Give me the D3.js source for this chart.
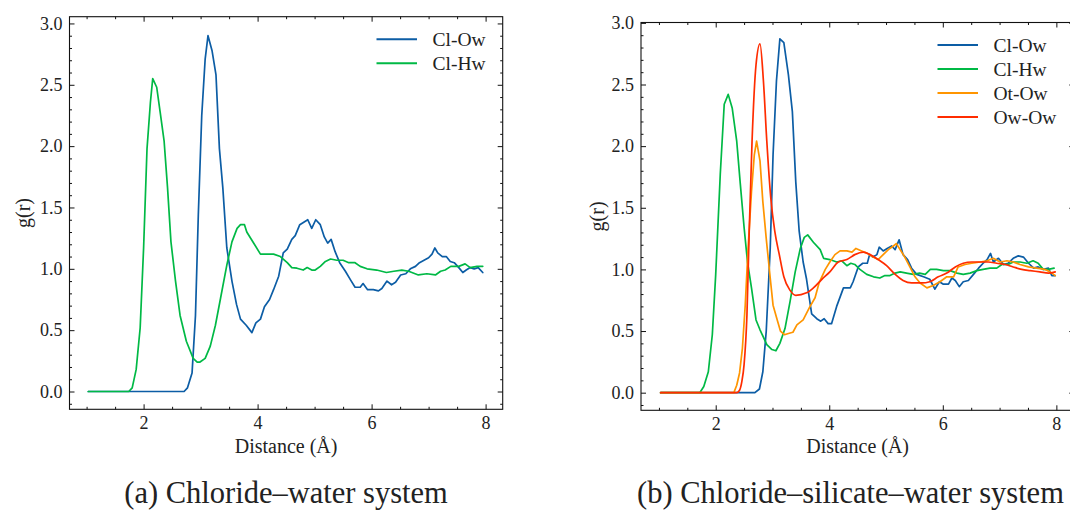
<!DOCTYPE html>
<html><head><meta charset="utf-8">
<script src="https://cdn.jsdelivr.net/npm/d3@7"></script>
<style>body{margin:0;background:#fff}svg{display:block}</style>
</head><body>
<svg id="c" width="1070" height="510"></svg>
<script>
// ---- Panel (a): chloride–water ----
const aClOwX=[1.03,2.71,2.77,2.85,2.91,2.96,3.02,3.08,3.13,3.20,3.27,3.33,3.39,3.46,3.55,3.63,3.70,3.80,3.90,3.97,4.05,4.12,4.21,4.28,4.37,4.45,4.52,4.60,4.66,4.74,4.81,4.88,4.95,5.02,5.10,5.17,5.23,5.29,5.36,5.44,5.54,5.63,5.71,5.80,5.85,5.93,6.03,6.12,6.18,6.27,6.35,6.42,6.51,6.60,6.68,6.77,6.84,6.92,7.00,7.06,7.11,7.16,7.24,7.31,7.38,7.45,7.53,7.60,7.66,7.73,7.80,7.87,7.95];
const aClOwG=[0,0,0.03,0.15,0.62,1.44,2.25,2.71,2.90,2.78,2.58,1.98,1.66,1.17,0.90,0.71,0.59,0.54,0.48,0.56,0.59,0.69,0.75,0.83,0.94,1.13,1.16,1.24,1.27,1.36,1.38,1.40,1.33,1.40,1.36,1.26,1.21,1.24,1.14,1.05,0.98,0.91,0.85,0.85,0.88,0.83,0.83,0.82,0.84,0.90,0.87,0.89,0.95,0.96,1.00,1.02,1.05,1.07,1.09,1.12,1.17,1.13,1.10,1.10,1.06,1.05,1.01,0.97,0.99,1.01,1.00,1.01,0.97];
const aClHwX=[1.03,1.74,1.80,1.87,1.94,2.00,2.06,2.12,2.16,2.23,2.29,2.36,2.42,2.48,2.56,2.64,2.75,2.87,2.94,2.99,3.08,3.17,3.26,3.35,3.46,3.55,3.64,3.70,3.77,3.81,3.93,4.05,4.19,4.28,4.40,4.52,4.60,4.69,4.80,4.87,4.95,5.01,5.10,5.19,5.28,5.39,5.50,5.60,5.71,5.80,5.92,6.09,6.26,6.39,6.53,6.65,6.82,6.97,7.12,7.21,7.29,7.39,7.53,7.64,7.73,7.85,7.95];
const aClHwG=[0,0,0.03,0.18,0.52,1.17,1.98,2.36,2.55,2.48,2.28,2.04,1.66,1.22,0.90,0.62,0.41,0.27,0.24,0.24,0.27,0.37,0.54,0.76,1.03,1.22,1.33,1.36,1.36,1.30,1.21,1.12,1.12,1.12,1.10,1.05,1.01,1.005,0.99,1.01,0.99,0.99,1.02,1.06,1.08,1.07,1.07,1.05,1.05,1.02,1.00,0.99,0.97,0.98,0.99,0.98,0.95,0.96,0.95,0.98,0.99,1.02,1.02,1.04,1.01,1.02,1.02];

// ---- Panel (b): chloride–silicate–water ----
const bClOwX=[1.03,2.69,2.77,2.83,2.89,2.96,3.01,3.07,3.13,3.20,3.28,3.35,3.41,3.47,3.54,3.60,3.69,3.78,3.85,3.91,3.98,4.04,4.13,4.25,4.37,4.42,4.51,4.59,4.67,4.71,4.77,4.84,4.88,4.95,5.02,5.10,5.16,5.23,5.30,5.38,5.45,5.54,5.66,5.77,5.86,5.94,6.01,6.10,6.16,6.22,6.29,6.36,6.45,6.54,6.63,6.71,6.78,6.84,6.89,6.98,7.07,7.15,7.24,7.33,7.42,7.51,7.60,7.68,7.77,7.86,7.92,7.98];
const bClOwG=[0,0,0.03,0.17,0.50,1.17,1.93,2.53,2.87,2.84,2.58,2.28,1.71,1.31,1.06,0.92,0.64,0.60,0.58,0.60,0.56,0.56,0.70,0.85,0.85,0.90,1.02,1.05,1.05,1.12,1.10,1.12,1.18,1.15,1.17,1.19,1.16,1.24,1.12,1.08,1.01,0.96,0.94,0.92,0.84,0.90,0.88,0.88,0.93,0.91,0.86,0.90,0.91,0.96,1.01,1.05,1.08,1.13,1.06,1.09,1.04,1.05,1.09,1.11,1.10,1.05,1.01,1.02,1.00,1.01,0.95,0.95];
const bClHwX=[1.03,1.72,1.79,1.87,1.94,2.00,2.08,2.15,2.22,2.29,2.37,2.43,2.50,2.56,2.63,2.71,2.78,2.90,2.99,3.06,3.13,3.22,3.31,3.40,3.49,3.56,3.62,3.72,3.84,3.90,4.01,4.13,4.22,4.31,4.38,4.45,4.54,4.66,4.78,4.89,4.98,5.07,5.16,5.25,5.36,5.48,5.59,5.69,5.78,5.89,6.01,6.13,6.25,6.36,6.48,6.60,6.71,6.83,6.95,7.04,7.15,7.24,7.36,7.48,7.59,7.68,7.77,7.86,7.96];
const bClHwG=[0,0,0.05,0.17,0.47,0.96,1.77,2.34,2.42,2.31,2.04,1.71,1.34,1.06,0.85,0.59,0.51,0.39,0.35,0.34,0.40,0.52,0.74,0.98,1.17,1.26,1.28,1.22,1.16,1.09,1.08,1.06,1.07,1.03,1.05,1.04,1.00,0.96,0.94,0.93,0.95,0.95,0.97,0.98,0.97,0.96,0.97,0.96,1.00,1.00,0.99,0.99,0.97,0.96,0.97,0.99,1.00,1.01,1.01,1.04,1.04,1.06,1.06,1.05,1.07,1.05,1.00,1.00,1.01];
const bOtOwX=[1.03,2.32,2.37,2.42,2.47,2.52,2.57,2.63,2.68,2.72,2.78,2.83,2.89,2.96,3.01,3.09,3.14,3.21,3.28,3.36,3.43,3.54,3.65,3.75,3.82,3.93,4.01,4.10,4.19,4.31,4.40,4.47,4.57,4.67,4.77,4.86,4.95,5.04,5.13,5.18,5.25,5.33,5.42,5.51,5.60,5.72,5.83,5.95,6.07,6.19,6.27,6.39,6.51,6.66,6.78,6.89,7.01,7.13,7.24,7.36,7.51,7.65,7.80,7.89,7.98];
const bOtOwG=[0,0,0.06,0.16,0.36,0.71,1.17,1.63,1.93,2.04,1.88,1.55,1.25,0.93,0.71,0.58,0.50,0.47,0.48,0.49,0.55,0.59,0.69,0.77,0.89,1.00,1.06,1.12,1.15,1.15,1.14,1.17,1.15,1.13,1.10,1.08,1.12,1.16,1.19,1.21,1.16,1.10,1.02,0.94,0.89,0.85,0.87,0.90,0.94,0.94,1.02,1.04,1.05,1.06,1.07,1.09,1.06,1.07,1.06,1.04,1.02,1.01,1.00,0.98,0.95];
const bOwOwX=[1.03,2.37,2.42,2.46,2.50,2.55,2.59,2.64,2.71,2.78,2.84,2.90,2.97,3.04,3.12,3.20,3.31,3.41,3.60,3.72,3.87,4.01,4.16,4.31,4.45,4.60,4.72,4.86,5.01,5.16,5.30,5.45,5.63,5.77,5.92,6.07,6.22,6.36,6.51,6.66,6.80,6.95,7.10,7.24,7.39,7.54,7.71,7.86,7.98];
const bOwOwG=[0,0,0.02,0.09,0.23,0.63,1.31,2.04,2.66,2.83,2.53,2.04,1.58,1.31,1.12,0.94,0.83,0.79,0.81,0.85,0.92,0.98,1.06,1.08,1.12,1.14,1.12,1.08,1.03,0.96,0.91,0.89,0.89,0.90,0.94,0.97,1.02,1.05,1.06,1.06,1.06,1.05,1.04,1.02,1.00,0.99,0.98,0.97,0.98];

const xMajorTicks=[2,4,6,8];
const yMajorTicks=[0,0.5,1.0,1.5,2.0,2.5,3.0];
const xLabel="Distance (Å)";
const yLabel="g(r)";
const captions=["(a) Chloride–water system","(b) Chloride–silicate–water system"];
const colors={"Cl-Ow":"#0C5DA5","Cl-Hw":"#00B945","Ot-Ow":"#FF9500","Ow-Ow":"#FF2C00"};

const svg=d3.select("#c");
const FONT="'Liberation Serif', 'Times New Roman', serif";

function drawPanel(p){
  const x=d3.scaleLinear().domain(p.xd).range([p.l,p.r]);
  const y=d3.scaleLinear().domain(p.yd).range([p.b,p.t]);
  const g=svg.append("g");
  const xMinor=d3.range(1,8.01,0.5).filter(v=>!xMajorTicks.includes(v));
  const yMinor=d3.range(-1,31,1).map(v=>v/10).filter(v=>Math.abs(v*2-Math.round(v*2))>1e-6);

  // data lines
  p.series.forEach(s=>{
    const pts=s.x.map((v,i)=>[v,s.g[i]]);
    g.append("path")
      .attr("d",d3.line().x(d=>x(d[0])).y(d=>y(d[1])).curve(s.smooth?d3.curveMonotoneX:d3.curveLinear)(pts))
      .attr("fill","none").attr("stroke",colors[s.name]).attr("stroke-width",1.7)
      .attr("stroke-linejoin","round").attr("stroke-linecap","round");
  });

  const styleAxis=a=>{a.select(".domain").remove();a.attr("color","#111");
    a.selectAll("line").attr("stroke-width",1);
    a.selectAll("text").attr("font-family",FONT).attr("font-size",18).attr("fill","#222");};
  // bottom
  g.append("g").attr("transform",`translate(0,${p.b})`)
    .call(d3.axisBottom(x).tickValues(xMajorTicks).tickSize(-5).tickPadding(6.5).tickFormat(d3.format("d"))).call(styleAxis);
  g.append("g").attr("transform",`translate(0,${p.b})`)
    .call(d3.axisBottom(x).tickValues(xMinor).tickSize(-2.5).tickFormat("")).call(styleAxis);
  // top
  g.append("g").attr("transform",`translate(0,${p.t})`)
    .call(d3.axisTop(x).tickValues(xMajorTicks).tickSize(-5).tickFormat("")).call(styleAxis);
  g.append("g").attr("transform",`translate(0,${p.t})`)
    .call(d3.axisTop(x).tickValues(xMinor).tickSize(-2.5).tickFormat("")).call(styleAxis);
  // left
  g.append("g").attr("transform",`translate(${p.l},0)`)
    .call(d3.axisLeft(y).tickValues(yMajorTicks).tickSize(-5).tickPadding(7).tickFormat(d3.format(".1f"))).call(styleAxis);
  g.append("g").attr("transform",`translate(${p.l},0)`)
    .call(d3.axisLeft(y).tickValues(yMinor).tickSize(-2.5).tickFormat("")).call(styleAxis);
  // right
  g.append("g").attr("transform",`translate(${p.r},0)`)
    .call(d3.axisRight(y).tickValues(yMajorTicks).tickSize(-5).tickFormat("")).call(styleAxis);
  g.append("g").attr("transform",`translate(${p.r},0)`)
    .call(d3.axisRight(y).tickValues(yMinor).tickSize(-2.5).tickFormat("")).call(styleAxis);

  // frame
  g.append("rect").attr("x",p.l).attr("y",p.t).attr("width",p.r-p.l).attr("height",p.b-p.t)
    .attr("fill","none").attr("stroke","#111").attr("stroke-width",1.1);

  // axis labels
  g.append("text").attr("x",(p.l+p.r)/2).attr("y",453).attr("text-anchor","middle")
    .attr("font-family",FONT).attr("font-size",20).attr("fill","#222").text(xLabel);
  g.append("text").attr("transform",`translate(${p.yl},${(p.t+p.b)/2}) rotate(-90)`)
    .attr("text-anchor","middle").attr("dominant-baseline","central")
    .attr("font-family",FONT).attr("font-size",20).attr("fill","#222").text(yLabel);

  // legend
  p.series.forEach((s,i)=>{
    const ly=p.t+22.5+i*24;
    g.append("line").attr("x1",p.lgx).attr("x2",p.lgx+40.5).attr("y1",ly).attr("y2",ly)
      .attr("stroke",colors[s.name]).attr("stroke-width",1.9);
    g.append("text").attr("x",p.lgx+56).attr("y",ly).attr("dominant-baseline","central")
      .attr("font-family",FONT).attr("font-size",19.5).attr("fill","#222").text(s.name);
  });

  // caption
  g.append("text").attr("x",p.cx).attr("y",503).attr("text-anchor",p.canchor)
    .attr("font-family",FONT).attr("font-size",30.5).attr("fill","#222").text(p.caption);
}

drawPanel({xd:[0.70,8.30],yd:[-0.145,3.055],l:69.5,r:502.7,t:16.7,b:409.3,yl:23,lgx:376.5,
  cx:286,canchor:"middle",caption:captions[0],
  series:[{name:"Cl-Ow",x:aClOwX,g:aClOwG},{name:"Cl-Hw",x:aClHwX,g:aClHwG}]});
drawPanel({xd:[0.684,8.316],yd:[-0.143,3.003],l:641,r:1074.3,t:22.5,b:410.3,yl:597,lgx:937.5,
  cx:637,canchor:"start",caption:captions[1],
  series:[{name:"Cl-Ow",x:bClOwX,g:bClOwG},{name:"Cl-Hw",x:bClHwX,g:bClHwG},
          {name:"Ot-Ow",x:bOtOwX,g:bOtOwG},{name:"Ow-Ow",x:bOwOwX,g:bOwOwG,smooth:true}]});
</script>
</body></html>
